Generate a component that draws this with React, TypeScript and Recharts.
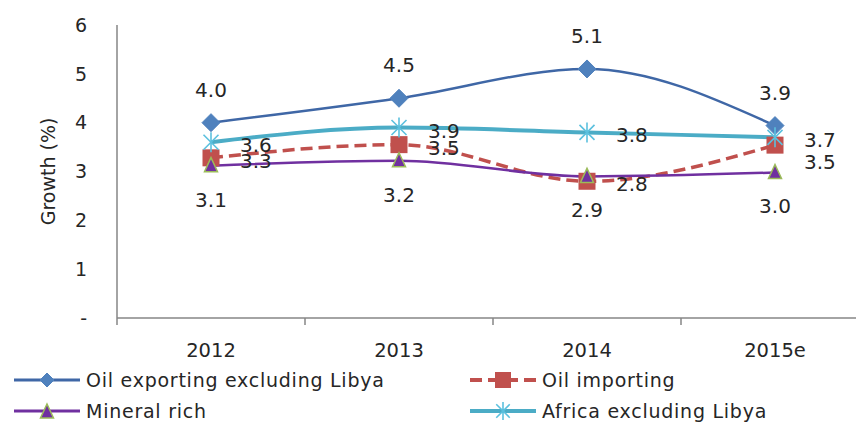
import React from 'react';
import { LineChart, Line, XAxis, YAxis } from 'recharts';

const categories = ['2012', '2013', '2014', '2015e'];
const oilExporting = [4.0, 4.5, 5.1, 3.94];
const oilImporting = [3.28, 3.55, 2.8, 3.54];
const mineralRich = [3.12, 3.22, 2.9, 2.98];
const africaExLibya = [3.6, 3.9, 3.8, 3.7];
const yTicks = [0, 1, 2, 3, 4, 5, 6];
const seriesNames = ['Oil exporting excluding Libya', 'Oil importing', 'Mineral rich', 'Africa excluding Libya'];

const data = categories.map((c, i) => ({
  cat: c,
  exp: oilExporting[i],
  imp: oilImporting[i],
  min: mineralRich[i],
  afr: africaExLibya[i],
}));

const FONT = '"DejaVu Sans", sans-serif';
const TXT = '#262626';
const AXIS = '#868686';
const HALF_BAND = 94;

const C_EXP_LINE = '#3F67A6';
const C_EXP_MARK = '#4F81BD';
const C_IMP = '#C0504D';
const C_MIN = '#7030A0';
const C_MIN_EDGE = '#9BBB59';
const C_AFR = '#4BACC6';
const C_AFR_MARK = '#5BC0DE';

const Diamond = ({ cx, cy, s = 9 }: any) => (
  <polygon points={`${cx},${cy - s} ${cx + s},${cy} ${cx},${cy + s} ${cx - s},${cy}`} fill={C_EXP_MARK} stroke={C_EXP_MARK} />
);
const Square = ({ cx, cy, s = 8.5 }: any) => (
  <rect x={cx - s} y={cy - s} width={2 * s} height={2 * s} fill={C_IMP} />
);
const Triangle = ({ cx, cy }: any) => (
  <polygon points={`${cx},${cy - 8} ${cx + 6.5},${cy + 6} ${cx - 6.5},${cy + 6}`} fill={C_MIN} stroke={C_MIN_EDGE} strokeWidth={1.5} />
);
const Asterisk = ({ cx, cy, s = 10 }: any) => {
  const d = s * 0.75;
  return (
    <g stroke={C_AFR_MARK} strokeWidth={1.6}>
      <line x1={cx} y1={cy - s} x2={cx} y2={cy + s} />
      <line x1={cx - d} y1={cy - d} x2={cx + d} y2={cy + d} />
      <line x1={cx - d} y1={cy + d} x2={cx + d} y2={cy - d} />
    </g>
  );
};

const makeLabel = (mode: 'above' | 'below' | 'right', extraDy: number[] = [0, 0, 0, 0]) => (props: any) => {
  const { x, y, value, index } = props;
  if (x == null || y == null) return null;
  let tx = x, ty = y, anchor: any = 'middle';
  if (mode === 'above') ty = y - 33;
  if (mode === 'below') ty = y + 34;
  if (mode === 'right') { tx = x + 29; ty = y + 3; anchor = 'start'; }
  ty += extraDy[index] || 0;
  return (
    <text key={`l-${index}`} x={tx} y={ty} textAnchor={anchor} dominantBaseline="central" fontFamily={FONT} fontSize={20} fill={TXT}>
      {Number(value).toFixed(1)}
    </text>
  );
};

const XTick = (props: any) => {
  const { x, y, payload, index } = props;
  return (
    <g>
      <line x1={x - HALF_BAND} x2={x - HALF_BAND} y1={y} y2={y + 7} stroke={AXIS} strokeWidth={1.5} />
      {index === categories.length - 1 && (
        <line x1={x + HALF_BAND} x2={x + HALF_BAND} y1={y} y2={y + 7} stroke={AXIS} strokeWidth={1.5} />
      )}
      <text x={x} y={y + 32} textAnchor="middle" dominantBaseline="central" fontFamily={FONT} fontSize={19.5} fill={TXT}>
        {payload.value}
      </text>
    </g>
  );
};

const YLabel = (props: any) => {
  const vb = props.viewBox || {};
  const cx = 48;
  const cy = vb.y + vb.height / 2;
  return (
    <text x={cx} y={cy} transform={`rotate(-90, ${cx}, ${cy})`} textAnchor="middle" dominantBaseline="central" fontFamily={FONT} fontSize={19} fill={TXT}>
      Growth (%)
    </text>
  );
};

const LegendIcon = ({ kind }: { kind: number }) => (
  <svg width={66} height={20} style={{ display: 'block' }}>
    {kind === 0 && (<><line x1={0} x2={66} y1={10} y2={10} stroke={C_EXP_LINE} strokeWidth={3} /><Diamond cx={33} cy={10} s={7} /></>)}
    {kind === 1 && (<><line x1={0} x2={66} y1={10} y2={10} stroke={C_IMP} strokeWidth={4} strokeDasharray="12 6" /><Square cx={33} cy={10} s={8} /></>)}
    {kind === 2 && (<><line x1={0} x2={66} y1={10} y2={10} stroke={C_MIN} strokeWidth={3} /><Triangle cx={33} cy={11} /></>)}
    {kind === 3 && (<><line x1={0} x2={66} y1={10} y2={10} stroke={C_AFR} strokeWidth={4} /><Asterisk cx={33} cy={10} s={9} /></>)}
  </svg>
);

const legendPos = [
  { left: 14, top: 370 },
  { left: 470, top: 370 },
  { left: 14, top: 401 },
  { left: 470, top: 401 },
];

export default function App() {
  return (
    <div style={{ position: 'fixed', left: 0, top: 0, width: 856, height: 422, overflow: 'hidden', background: '#fff' }}>
      <LineChart width={900} height={422} data={data} margin={{ top: 25, right: 31, bottom: 74, left: 0 }}>
        <XAxis
          dataKey="cat"
          height={30}
          padding={{ left: HALF_BAND, right: HALF_BAND }}
          axisLine={{ stroke: AXIS, strokeWidth: 1.5 }}
          tickLine={false}
          tickSize={0}
          tickMargin={0}
          interval={0}
          tick={<XTick />}
        />
        <YAxis
          width={117}
          domain={[0, 6]}
          ticks={yTicks}
          interval={0}
          axisLine={{ stroke: AXIS, strokeWidth: 1.5 }}
          tickLine={false}
          tickSize={0}
          tickMargin={30}
          tick={{ fontFamily: FONT, fontSize: 19, fill: TXT }}
          tickFormatter={(v: number) => (v === 0 ? '-' : String(v))}
          label={<YLabel />}
        />
        <Line dataKey="exp" name={seriesNames[0]} type="monotone" stroke={C_EXP_LINE} strokeWidth={2.5}
          isAnimationActive={false} dot={(p: any) => <Diamond key={`d0-${p.index}`} cx={p.cx} cy={p.cy} />}
          label={makeLabel('above')} />
        <Line dataKey="imp" name={seriesNames[1]} type="monotone" stroke={C_IMP} strokeWidth={3.5} strokeDasharray="12 6"
          isAnimationActive={false} dot={(p: any) => <Square key={`d1-${p.index}`} cx={p.cx} cy={p.cy} />}
          label={makeLabel('right', [0, 0, 0, 14])} />
        <Line dataKey="min" name={seriesNames[2]} type="monotone" stroke={C_MIN} strokeWidth={2.5}
          isAnimationActive={false} dot={(p: any) => <Triangle key={`d2-${p.index}`} cx={p.cx} cy={p.cy} />}
          label={makeLabel('below')} />
        <Line dataKey="afr" name={seriesNames[3]} type="monotone" stroke={C_AFR} strokeWidth={4}
          isAnimationActive={false} dot={(p: any) => <Asterisk key={`d3-${p.index}`} cx={p.cx} cy={p.cy} />}
          label={makeLabel('right')} />
      </LineChart>
      {seriesNames.map((n, i) => (
        <div key={n} style={{ position: 'absolute', left: legendPos[i].left, top: legendPos[i].top, display: 'flex', alignItems: 'center', height: 20 }}>
          <LegendIcon kind={i} />
          <span style={{ marginLeft: 6, fontFamily: FONT, fontSize: 19, letterSpacing: '0.75px', color: TXT, whiteSpace: 'nowrap', lineHeight: '20px' }}>{n}</span>
        </div>
      ))}
    </div>
  );
}
